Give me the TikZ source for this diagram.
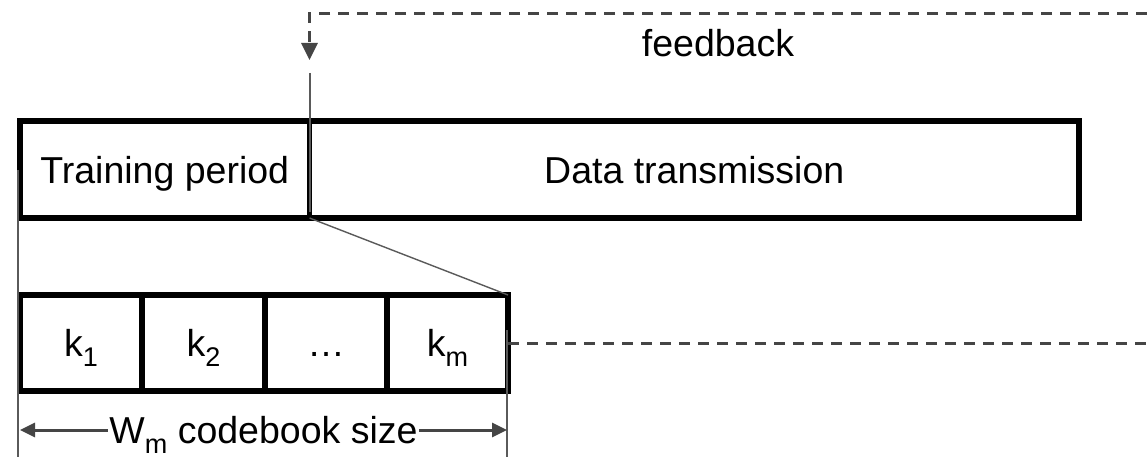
\documentclass[tikz,border=0pt]{standalone}
\usepackage{fontspec}
\setmainfont{Liberation Sans}
\usetikzlibrary{arrows.meta}
\definecolor{linegray}{HTML}{454545}
\definecolor{guidegray}{HTML}{5A5A5A}
% lowered, smaller index after a letter
\newcommand\lowsub[1]{\raisebox{-9.5pt}{\fontsize{27}{30}\selectfont #1}}
\begin{document}
\begin{tikzpicture}[x=1pt,y=-1pt,
  bigfont/.style={font=\fontsize{37.5}{45}\selectfont,text height=27pt,text depth=0pt},
  frame/.style={draw=black,line width=5.5pt,inner sep=0pt,outer sep=0pt,bigfont},
  guide/.style={draw=guidegray,line width=1.4pt},
  fbline/.style={draw=linegray,line width=3pt,dash pattern=on 11pt off 8pt},
  dimline/.style={draw=linegray,line width=3pt,{Triangle[length=15pt,width=14pt]}-{Triangle[length=15pt,width=14pt]}}
]
\fill[white] (0,0) rectangle (1147,457);
\useasboundingbox (0,0) rectangle (1147,457);

% upper frame: training and data phases
\node[frame,minimum width=289.5pt,minimum height=97pt] (train) at (164.75,169.5) {Training period};
\node[frame,minimum width=769.5pt,minimum height=97pt] (data) at (694.25,169.5) {Data transmission};

% lower frame: codebook slots
\node[frame,minimum width=122pt,minimum height=96pt] (k1) at (81,343) {k\lowsub{1}};
\node[frame,minimum width=123pt,minimum height=96pt] (k2) at (203.5,343) {k\lowsub{2}};
\node[frame,minimum width=122pt,minimum height=96pt] (kd) at (326,343) {\ldots};
\node[frame,minimum width=121pt,minimum height=96pt] (km) at (447.5,343) {k\lowsub{m}};

% guide lines
\coordinate (gl1) at (18,170);
\coordinate (gl2) at (18,457);
\coordinate (gr1) at (507,330);
\coordinate (gr2) at (507,457);
\coordinate (gm1) at (310,73);
\coordinate (gm2) at (310,212);
\draw[guide] (gl1) -- (gl2);
\draw[guide] (gr1) -- (gr2);
\draw[guide] (gm1) -- (gm2);
\draw[guide] (train.south east) -- (km.north east);

% codebook size dimension
\coordinate (dl) at (20,430);
\coordinate (dr) at (507,430);
\draw[dimline] (dl) -- (dr)
  node[midway,fill=white,inner sep=1pt,bigfont,text=black] (wm) {W\lowsub{m} codebook size};

% feedback loop
\coordinate (fbout) at (1147,343);
\coordinate (fbin) at (1147,14);
\coordinate (fbtip) at (309.5,60);
\draw[fbline] (km.east) -- (fbout);
\draw[fbline,-{Triangle[length=17pt,width=16pt]}] (fbin) -| (fbtip);
\node[bigfont] (fb) at (718,43.5) {feedback};
\end{tikzpicture}
\end{document}
